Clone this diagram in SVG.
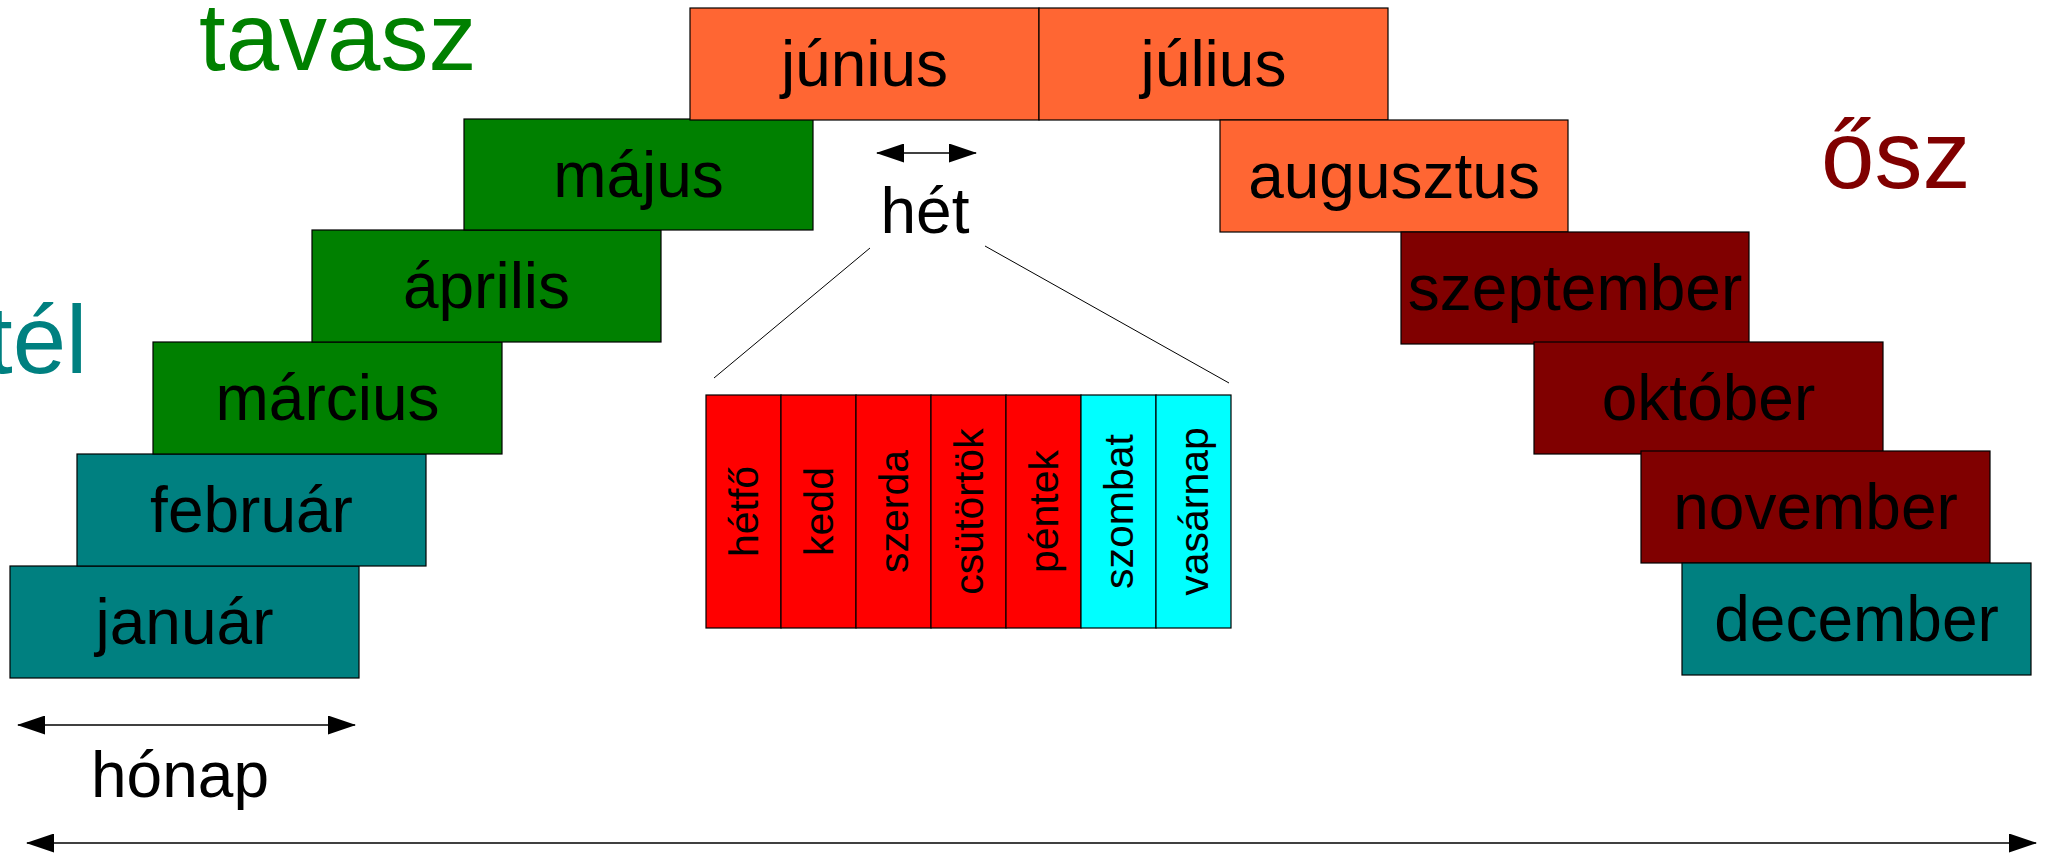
<svg xmlns="http://www.w3.org/2000/svg" width="2046" height="854" viewBox="0 0 2046 854">
<style>
.box{stroke:#000;stroke-width:1.2}
.winter{fill:#008080}
.spring{fill:#008000}
.summer{fill:#ff6633}
.autumn{fill:#800000}
.work{fill:#ff0000}
.weekend{fill:#00ffff}
.lbl{font-family:"Liberation Sans",Arial,sans-serif;font-size:64px;fill:#000;text-anchor:middle}
.day{font-family:"Liberation Sans",Arial,sans-serif;font-size:41px;fill:#000;text-anchor:middle}
.season{font-family:"Liberation Sans",Arial,sans-serif;font-size:96px}
.arrow{stroke:#000;stroke-width:1.6;fill:none;marker-start:url(#ah);marker-end:url(#ah)}
.thin{stroke:#000;stroke-width:1;fill:none}
</style>
<defs>
<marker id="ah" viewBox="0 0 28 19" refX="27" refY="9.5" markerWidth="28" markerHeight="19" markerUnits="userSpaceOnUse" orient="auto-start-reverse">
<path d="M0,0 L28,9.5 L0,19 Z" fill="#000"/>
</marker>
</defs>
<rect width="2046" height="854" fill="#fff"/>

<g id="seasons">
<text id="tavasz" class="season" x="199" y="70" fill="#008000">tavasz</text>
<text id="tel" class="season" x="-14" y="373" fill="#008080">tél</text>
<text id="osz" class="season" x="1821" y="188" fill="#800000">ősz</text>
</g>

<g id="januar"><rect class="box winter" x="10" y="566" width="349" height="112"/><text class="lbl" x="184.5" y="644">január</text></g>
<g id="februar"><rect class="box winter" x="77" y="454" width="349" height="112"/><text class="lbl" x="251.5" y="532">február</text></g>
<g id="marcius"><rect class="box spring" x="153" y="342" width="349" height="112"/><text class="lbl" x="327.5" y="420">március</text></g>
<g id="aprilis"><rect class="box spring" x="312" y="230" width="349" height="112"/><text class="lbl" x="486.5" y="308">április</text></g>
<g id="majus"><rect class="box spring" x="464" y="119" width="349" height="111"/><text class="lbl" x="638.5" y="196.5">május</text></g>
<g id="junius"><rect class="box summer" x="690" y="8" width="349" height="112"/><text class="lbl" x="864.5" y="86">június</text></g>
<g id="julius"><rect class="box summer" x="1039" y="8" width="349" height="112"/><text class="lbl" x="1213.5" y="86">július</text></g>
<g id="augusztus"><rect class="box summer" x="1220" y="120" width="348" height="112"/><text class="lbl" x="1394" y="198">augusztus</text></g>
<g id="szeptember"><rect class="box autumn" x="1401" y="232" width="348" height="112"/><text class="lbl" x="1575" y="310">szeptember</text></g>
<g id="oktober"><rect class="box autumn" x="1534" y="342" width="349" height="112"/><text class="lbl" x="1708.5" y="420">október</text></g>
<g id="november"><rect class="box autumn" x="1641" y="451" width="349" height="112"/><text class="lbl" x="1815.5" y="529">november</text></g>
<g id="december"><rect class="box winter" x="1682" y="563" width="349" height="112"/><text class="lbl" x="1856.5" y="641">december</text></g>

<g id="week">
<g id="hetfo"><rect class="box work" x="706" y="395" width="75" height="233"/><text class="day" transform="translate(743.5,511.5) rotate(-90)" dy="0.35em">hétfő</text></g>
<g id="kedd"><rect class="box work" x="781" y="395" width="75" height="233"/><text class="day" transform="translate(818.5,511.5) rotate(-90)" dy="0.35em">kedd</text></g>
<g id="szerda"><rect class="box work" x="856" y="395" width="75" height="233"/><text class="day" transform="translate(893.5,511.5) rotate(-90)" dy="0.35em">szerda</text></g>
<g id="csutortok"><rect class="box work" x="931" y="395" width="75" height="233"/><text class="day" transform="translate(968.5,511.5) rotate(-90)" dy="0.35em">csütörtök</text></g>
<g id="pentek"><rect class="box work" x="1006" y="395" width="75" height="233"/><text class="day" transform="translate(1043.5,511.5) rotate(-90)" dy="0.35em">péntek</text></g>
<g id="szombat"><rect class="box weekend" x="1081" y="395" width="75" height="233"/><text class="day" transform="translate(1118.5,511.5) rotate(-90)" dy="0.35em">szombat</text></g>
<g id="vasarnap"><rect class="box weekend" x="1156" y="395" width="75" height="233"/><text class="day" transform="translate(1193.5,511.5) rotate(-90)" dy="0.35em">vasárnap</text></g>
</g>

<g id="labels">
<text id="het" class="lbl" x="925" y="233">hét</text>
<text id="honap" class="lbl" x="180" y="797">hónap</text>
</g>

<g id="connectors">
<line class="arrow" x1="877" y1="153" x2="976" y2="153"/>
<line class="arrow" x1="18" y1="725" x2="355" y2="725"/>
<line class="arrow" x1="27" y1="843" x2="2036" y2="843"/>
<line class="thin" x1="870" y1="248" x2="714" y2="378"/>
<line class="thin" x1="985" y1="246" x2="1229" y2="383"/>
</g>
</svg>
